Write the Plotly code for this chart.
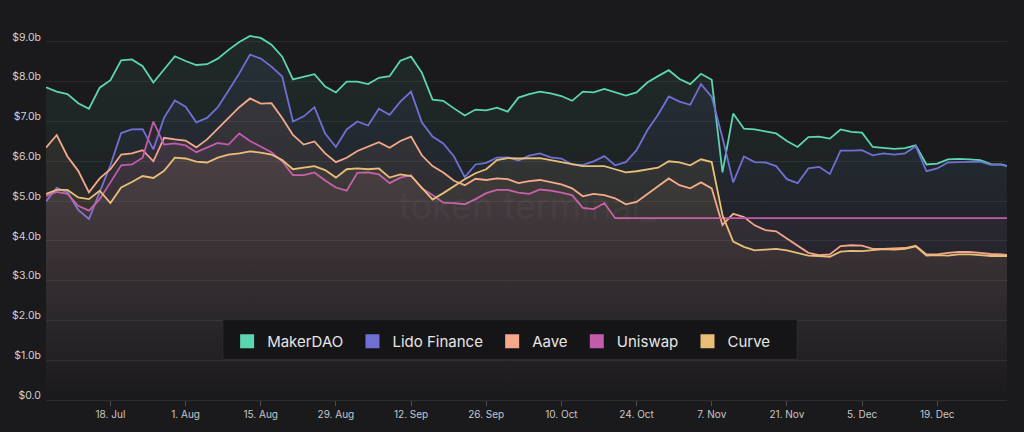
import plotly.graph_objects as go
import pandas as pd

# dates every 2 days from 6 Jul 2021, plus 1 Jan 2022
dates = list(pd.date_range("2021-07-06", "2021-12-31", freq="2D").strftime("%Y-%m-%d")) + ["2022-01-01"]

makerdao = [7.86, 7.75, 7.69, 7.46, 7.32, 7.85, 8.04, 8.54, 8.56, 8.39,
            7.98, 8.30, 8.64, 8.52, 8.42, 8.44, 8.58, 8.80, 9.00, 9.15,
            9.10, 8.93, 8.63, 8.06, 8.12, 8.19, 7.88, 7.73, 8.00, 8.00,
            7.94, 8.10, 8.14, 8.53, 8.63, 8.23, 7.55, 7.52, 7.33, 7.15,
            7.30, 7.28, 7.35, 7.25, 7.60, 7.69, 7.75, 7.71, 7.64, 7.52,
            7.75, 7.73, 7.82, 7.74, 7.65, 7.73, 7.98, 8.14, 8.29, 8.07,
            7.94, 8.20, 8.05, 5.72, 7.20, 6.82, 6.80, 6.75, 6.70, 6.51,
            6.36, 6.61, 6.62, 6.57, 6.80, 6.74, 6.72, 6.36, 6.33, 6.31,
            6.33, 6.40, 5.92, 5.94, 6.05, 6.06, 6.05, 6.03, 5.93, 5.92,
            5.88]

lido = [4.99, 5.33, 5.22, 4.78, 4.55, 5.22, 5.90, 6.71, 6.80, 6.81,
        6.30, 7.10, 7.53, 7.37, 6.98, 7.09, 7.36, 7.78, 8.21, 8.68,
        8.58, 8.38, 8.13, 7.00, 7.13, 7.36, 6.70, 6.36, 6.80, 7.00,
        6.90, 7.32, 7.17, 7.50, 7.75, 6.98, 6.62, 6.45, 6.12, 5.60,
        5.92, 5.96, 6.09, 6.10, 6.02, 6.14, 6.20, 6.10, 6.07, 5.92,
        5.91, 6.00, 6.13, 5.90, 5.98, 6.28, 6.78, 7.17, 7.63, 7.50,
        7.42, 7.94, 7.62, 6.60, 5.47, 6.12, 5.98, 5.97, 5.88, 5.55,
        5.45, 5.82, 5.86, 5.68, 6.27, 6.27, 6.28, 6.15, 6.20, 6.17,
        6.20, 6.38, 5.75, 5.82, 5.97, 5.98, 5.99, 5.99, 5.91, 5.91,
        5.88]

aave = [6.34, 6.66, 6.12, 5.76, 5.22, 5.57, 5.80, 6.17, 6.20, 6.28,
        6.00, 6.59, 6.55, 6.52, 6.35, 6.55, 6.82, 7.09, 7.36, 7.58,
        7.45, 7.46, 7.09, 6.66, 6.42, 6.50, 6.20, 5.98, 6.09, 6.26,
        6.36, 6.48, 6.34, 6.51, 6.62, 6.15, 5.88, 5.72, 5.51, 5.40,
        5.56, 5.53, 5.57, 5.55, 5.45, 5.50, 5.53, 5.47, 5.42, 5.32,
        5.12, 5.18, 5.15, 5.07, 4.92, 4.98, 5.17, 5.37, 5.57, 5.40,
        5.32, 5.47, 5.32, 4.40, 4.68, 4.60, 4.39, 4.27, 4.24, 4.06,
        3.88, 3.70, 3.64, 3.66, 3.87, 3.89, 3.88, 3.80, 3.80, 3.81,
        3.82, 3.88, 3.66, 3.66, 3.70, 3.72, 3.72, 3.70, 3.67, 3.66,
        3.65]

uniswap = [5.13, 5.23, 5.18, 4.88, 4.76, 5.05, 5.47, 5.90, 5.92, 6.09,
           7.00, 6.42, 6.45, 6.40, 6.23, 6.34, 6.46, 6.42, 6.70, 6.51,
           6.36, 6.23, 6.00, 5.65, 5.65, 5.72, 5.52, 5.34, 5.26, 5.71,
           5.72, 5.67, 5.45, 5.59, 5.65, 5.32, 5.15, 4.96, 4.95, 4.92,
           5.05, 5.20, 5.28, 5.28, 5.21, 5.18, 5.29, 5.26, 5.21, 5.15,
           4.83, 4.80, 4.95, 4.57, 4.57, 4.57, 4.57, 4.57, 4.57, 4.57,
           4.57, 4.57, 4.57, 4.57, 4.57, 4.57, 4.57, 4.57, 4.57, 4.57,
           4.57, 4.57, 4.57, 4.57, 4.57, 4.57, 4.57, 4.57, 4.57, 4.57,
           4.57, 4.57, 4.57, 4.57, 4.57, 4.57, 4.57, 4.57, 4.57, 4.57,
           4.57]

curve = [5.18, 5.28, 5.28, 5.09, 5.05, 5.26, 4.95, 5.34, 5.48, 5.63,
         5.58, 5.76, 6.09, 6.07, 5.99, 5.97, 6.09, 6.17, 6.20, 6.25,
         6.22, 6.17, 6.03, 5.80, 5.84, 5.88, 5.78, 5.59, 5.80, 5.82,
         5.80, 5.82, 5.59, 5.67, 5.63, 5.34, 5.04, 5.20, 5.38, 5.55,
         5.70, 5.80, 6.03, 6.08, 6.07, 6.08, 6.08, 6.03, 5.98, 5.92,
         5.88, 5.88, 5.88, 5.80, 5.72, 5.75, 5.80, 5.84, 6.00, 5.97,
         5.90, 6.05, 5.98, 4.65, 3.98, 3.85, 3.76, 3.78, 3.80, 3.76,
         3.70, 3.63, 3.62, 3.60, 3.73, 3.75, 3.74, 3.77, 3.79, 3.78,
         3.80, 3.86, 3.63, 3.64, 3.63, 3.66, 3.66, 3.64, 3.62, 3.62,
         3.62]

series_names = ["MakerDAO", "Lido Finance", "Aave", "Uniswap", "Curve"]
series_values = [makerdao, lido, aave, uniswap, curve]
series_colors = ["#5cd6b0", "#6f70d4", "#f6a98a", "#c35bab", "#e9bf78"]
series_rgb = [(92, 214, 176), (111, 112, 212), (246, 169, 138), (195, 91, 171), (233, 191, 120)]

tick_dates = ["2021-07-18", "2021-08-01", "2021-08-15", "2021-08-29", "2021-09-12", "2021-09-26",
              "2021-10-10", "2021-10-24", "2021-11-07", "2021-11-21", "2021-12-05", "2021-12-19"]
tick_labels = ["18. Jul", "1. Aug", "15. Aug", "29. Aug", "12. Sep", "26. Sep",
               "10. Oct", "24. Oct", "7. Nov", "21. Nov", "5. Dec", "19. Dec"]
y_ticks = [0, 1, 2, 3, 4, 5, 6, 7, 8, 9]
y_labels = ["$0.0", "$1.0b", "$2.0b", "$3.0b", "$4.0b", "$5.0b", "$6.0b", "$7.0b", "$8.0b", "$9.0b"]

BG = "#1a191c"
NB = "\u00a0"

fig = go.Figure()

for name, vals, col, rgb in zip(series_names, series_values, series_colors, series_rgb):
    r, g, b = rgb
    fig.add_trace(go.Scatter(
        x=dates, y=vals, mode="lines", name=name, showlegend=False,
        line=dict(color=col, width=1.8),
        fill="tozeroy",
        fillgradient=dict(type="vertical",
                          colorscale=[[0, f"rgba({r},{g},{b},0.0)"], [1, f"rgba({r},{g},{b},0.085)"]]),
        hoverinfo="skip",
    ))

for i, (name, col) in enumerate(zip(series_names, series_colors)):
    label = name + (NB if i < len(series_names) - 1 else "")
    fig.add_trace(go.Scatter(
        x=[None], y=[None], mode="markers", name=label, showlegend=True,
        marker=dict(symbol="square", size=14, color=col),
    ))

# legend panel
fig.add_shape(type="rect", xref="paper", yref="paper",
              x0=0.184, x1=0.7817, y0=0.110, y1=0.217,
              fillcolor="#151417", line=dict(color="#2e2d31", width=1), layer="above")

fig.add_annotation(
    text="token terminal_", xref="paper", yref="paper", x=0.502, y=0.525,
    showarrow=False, font=dict(family="Inter", size=36, color="rgba(255,255,255,0.05)"),
)

fig.update_layout(
    width=1024, height=432,
    margin=dict(l=45, r=17, t=30, b=29),
    paper_bgcolor=BG, plot_bgcolor=BG,
    font=dict(family="Inter", color="#d0d0d0"),
    showlegend=True,
    legend=dict(
        orientation="h", x=0.4736, y=0.158, xanchor="center", yanchor="middle",
        bgcolor="rgba(0,0,0,0)", borderwidth=0,
        font=dict(family="Inter", size=15, color="#e6e6e6"),
        itemclick=False, itemdoubleclick=False,
    ),
    xaxis=dict(
        type="date", range=["2021-07-06", "2022-01-01"],
        tickvals=tick_dates, ticktext=tick_labels,
        ticks="outside", ticklen=5, tickcolor="#4a4a4d", tickwidth=1,
        showgrid=False, zeroline=False,
        showline=True, linecolor="#2c2c2f", linewidth=1,
        tickfont=dict(family="Inter", size=10, color="#c8c8c8"),
    ),
    yaxis=dict(
        range=[0, 9.3], tickvals=y_ticks, ticktext=y_labels,
        showgrid=True, gridcolor="#29292c", gridwidth=1,
        zeroline=False, showline=False, ticks="",
        tickfont=dict(family="Inter", size=10.5, color="#d0d0d0"),
        ticklabelshift=-5, ticklabelstandoff=4,
    ),
)

fig.write_html("out.html", config={"displayModeBar": False},
               post_script="document.body.style.margin='0';")
